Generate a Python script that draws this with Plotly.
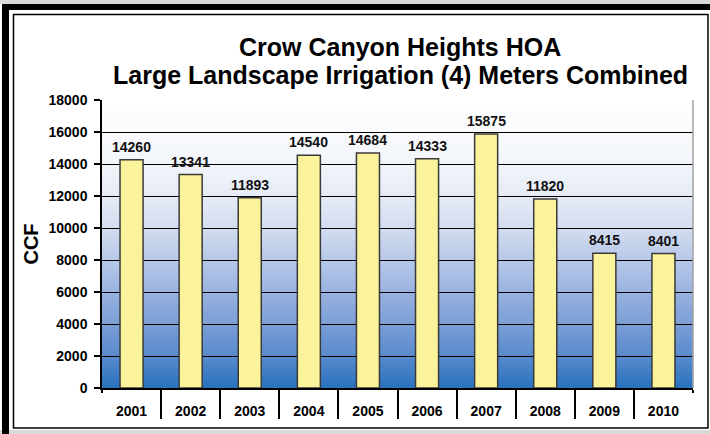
import plotly.graph_objects as go

years = ["2001", "2002", "2003", "2004", "2005", "2006", "2007", "2008", "2009", "2010"]
ccf = [14260, 13341, 11893, 14540, 14684, 14333, 15875, 11820, 8415, 8401]
y_ticks = [0, 2000, 4000, 6000, 8000, 10000, 12000, 14000, 16000, 18000]
title_lines = ["Crow Canyon Heights HOA", "Large Landscape Irrigation (4) Meters Combined"]

W, H = 710, 434
L, R, T, B = 102, 17, 100, 46
PW, PH = W - L - R, H - T - B

def px(x):
    return (x - L) / PW

def py(y):
    return (H - B - y) / PH

FONT = "Liberation Sans, Arial, sans-serif"

fig = go.Figure()
fig.add_trace(go.Bar(
    x=years, y=ccf, width=0.39,
    marker=dict(color="#faf39b", line=dict(color="#3a3a3a", width=1.5)),
))

annotations = []
for i, v in enumerate(ccf):
    annotations.append(dict(x=i, y=v, xref="x", yref="y", text="<b>%d</b>" % v,
                            showarrow=False, yanchor="bottom", yshift=3,
                            font=dict(family=FONT, size=14, color="#111111")))
for i, line in enumerate(title_lines):
    annotations.append(dict(x=px(400), y=py(47 + 28 * i), xref="paper", yref="paper",
                            text="<b>%s</b>" % line, showarrow=False,
                            xanchor="center", yanchor="middle",
                            font=dict(family=FONT, size=25, color="black")))

# gradient background bands
stops = [(0.0, (40, 114, 190)), (0.11, (88, 138, 204)), (0.22, (122, 158, 214)),
         (0.33, (152, 178, 224)), (0.44, (182, 199, 232)), (0.56, (212, 221, 240)),
         (0.67, (230, 235, 246)), (0.78, (242, 245, 250)), (1.0, (255, 255, 255))]

def col(f):
    for (a, ca), (b, cb) in zip(stops[:-1], stops[1:]):
        if a <= f <= b:
            t = (f - a) / (b - a)
            c = [round(ca[i] + (cb[i] - ca[i]) * t) for i in range(3)]
            return "rgb(%d,%d,%d)" % tuple(c)
    return "rgb(255,255,255)"

shapes = []
N = 96
for i in range(N):
    f0, f1 = i / N, (i + 1) / N
    shapes.append(dict(type="rect", xref="x domain", yref="y domain", x0=0, x1=1,
                       y0=f0, y1=f1 + 0.002, fillcolor=col((f0 + f1) / 2),
                       line=dict(width=0), layer="below"))
shapes.append(dict(type="line", xref="x domain", yref="y domain", x0=1, x1=1, y0=0, y1=1,
                   line=dict(color="#a0a0a0", width=1.5)))
# shorten the end dividers below the axis
for xe in (102, 693):
    shapes.append(dict(type="rect", xref="paper", yref="paper", x0=px(xe - 2), x1=px(xe + 2),
                       y0=py(393), y1=py(419), fillcolor="white", line=dict(width=0)))
# frames
shapes.append(dict(type="rect", xref="paper", yref="paper", x0=px(0), x1=px(710), y0=py(0), y1=py(4),
                   fillcolor="#d9d9d9", line=dict(width=0)))
shapes.append(dict(type="rect", xref="paper", yref="paper", x0=px(0), x1=px(710), y0=py(430), y1=py(434),
                   fillcolor="#d9d9d9", line=dict(width=0)))
shapes.append(dict(type="rect", xref="paper", yref="paper", x0=px(2), x1=px(9), y0=py(4), y1=py(434),
                   fillcolor="black", line=dict(width=0)))
shapes.append(dict(type="rect", xref="paper", yref="paper", x0=px(2), x1=px(710), y0=py(4), y1=py(10),
                   fillcolor="black", line=dict(width=0)))
shapes.append(dict(type="rect", xref="paper", yref="paper", x0=px(13.5), x1=px(708), y0=py(14.5), y1=py(428),
                   fillcolor="rgba(0,0,0,0)", line=dict(color="black", width=1.5)))

fig.update_layout(
    width=W, height=H,
    margin=dict(l=L, r=R, t=T, b=B, pad=0, autoexpand=False),
    paper_bgcolor="white", plot_bgcolor="rgba(0,0,0,0)",
    showlegend=False,
    shapes=shapes,
    annotations=annotations,
    font=dict(family=FONT, color="black"),
)
fig.update_xaxes(
    type="category", categoryorder="array", categoryarray=years,
    range=[-0.5, 9.5], automargin=False,
    showline=True, linecolor="black", linewidth=1.5,
    ticks="outside", tickson="boundaries", ticklen=29, tickcolor="black", tickwidth=1.5,
    ticklabelstandoff=9,
    tickfont=dict(family=FONT, size=14, color="black"),
    tickprefix="<b>", ticksuffix="</b>",
    showgrid=False,
)
fig.update_yaxes(
    range=[0, 18000], tickvals=y_ticks, ticktext=["<b>%d</b>" % v for v in y_ticks],
    automargin=False,
    showline=True, linecolor="black", linewidth=1.5,
    ticks="outside", ticklen=6, tickcolor="black", tickwidth=1.5,
    ticklabelstandoff=4,
    showgrid=True, gridcolor="black", gridwidth=1,
    tickfont=dict(family=FONT, size=14, color="black"),
    title=dict(text="<b>CCF</b>", font=dict(family=FONT, size=20, color="black"), standoff=5),
    zeroline=False,
)
fig.write_html("out.html", config={"displayModeBar": False},
               post_script="document.body.style.margin='0';document.body.style.overflow='hidden';")
